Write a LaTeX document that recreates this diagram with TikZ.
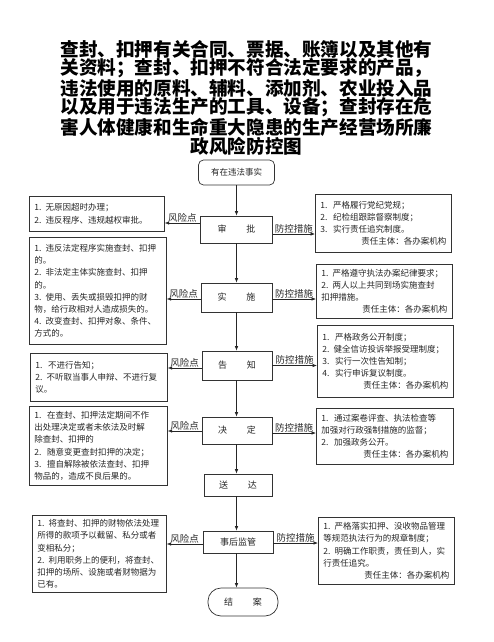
\documentclass[tikz,border=0pt]{standalone}
\usepackage{fontspec}
\setmainfont{Noto Sans CJK SC}
\usetikzlibrary{arrows.meta,calc}
\begin{document}
\begin{tikzpicture}[x=1pt,y=-1pt,
  every node/.style={text=black!85},
  flow/.style={draw=black!80, line width=0.7pt, inner sep=0pt,
    font=\fontsize{9}{11}\selectfont, anchor=center},
  sidebox/.style={draw=black!80, line width=0.7pt, inner xsep=5pt, inner ysep=2pt,
    anchor=north west, align=left, font=\fontsize{8.5}{12.2}\selectfont},
  arr/.style={draw=black!85, line width=0.6pt, -{Latex[length=4.5pt,width=3.5pt]}},
  lab/.style={above, inner sep=0.8pt, font=\fontsize{9.5}{10}\selectfont}
]
\useasboundingbox (0,0) rectangle (493,642);

% title
\node[inner sep=0pt, align=center, font=\fontsize{18.6}{18.6}\selectfont\bfseries, text=black] (title) at (246.5,97.5)
 {查封、扣押有关合同、票据、账簿以及其他有\\关资料；查封、扣押不符合法定要求的产品，\\违法使用的原料、辅料、添加剂、农业投入品\\以及用于违法生产的工具、设备；查封存在危\\害人体健康和生命重大隐患的生产经营场所廉\\政风险防控图};

% central flow
\node[flow, rounded corners=5pt, minimum width=76pt, minimum height=25pt, font=\fontsize{8.5}{10}\selectfont] (start) at (236.5,172.5) {有在违法事实};
\node[flow, minimum width=72pt, minimum height=27pt] (shen) at (236.5,229.5) {审\hspace{2.2em}批};
\node[flow, minimum width=71pt, minimum height=29pt] (shi) at (236.5,297.5) {实\hspace{2.2em}施};
\node[flow, minimum width=70pt, minimum height=29pt] (gao) at (237,365.5) {告\hspace{2.2em}知};
\node[flow, minimum width=70pt, minimum height=27pt] (jue) at (237,430.5) {决\hspace{2.2em}定};
\node[flow, minimum width=68pt, minimum height=22pt] (song) at (238,485) {送\hspace{2.2em}达};
\node[flow, minimum width=70pt, minimum height=22pt] (jian) at (238,542) {事后监管};
\node[flow, rounded corners=13pt, minimum width=70pt, minimum height=28pt] (end) at (243,602) {结\hspace{2.2em}案};

\draw[arr] (start.south) -- (start.south |- shen.north);
\draw[arr] (shen.south) -- (shen.south |- shi.north);
\draw[arr] (shi.south) -- (shi.south |- gao.north);
\draw[arr] (shi.south |- gao.south) -- (shi.south |- jue.north);
\draw[arr] (shi.south |- jue.south) -- (shi.south |- song.north);
\draw[arr] (shi.south |- song.south) -- (shi.south |- jian.north);
\draw[arr] (shi.south |- jian.south) -- (shi.south |- end.north);

% left risk boxes
\node[sidebox, minimum width=135pt, minimum height=35pt, text width=125pt] (L1) at (29,196)
 {1. 无原因超时办理；\\2. 违反程序、违规越权审批。};
\node[sidebox, minimum width=137pt, minimum height=107pt, text width=127pt] (L2) at (29,237)
 {1. 违反法定程序实施查封、扣押\\的。\\2. 非法定主体实施查封、扣押\\的。\\3. 使用、丢失或损毁扣押的财\\物，给行政相对人造成损失的。\\4. 改变查封、扣押对象、条件、\\方式的。};
\node[sidebox, minimum width=137pt, minimum height=48pt, text width=127pt] (L3) at (30,353)
 {1.\ \ 不进行告知；\\2. 不听取当事人申辩、不进行复\\议。};
\node[sidebox, minimum width=138pt, minimum height=79pt, text width=128pt] (L4) at (29,406)
 {1.\ \ 在查封、扣押法定期间不作\\出处理决定或者未依法及时解\\除查封、扣押的\\2.\ \ 随意变更查封扣押的决定；\\3.\ \ 擅自解除被依法查封、扣押\\物品的，造成不良后果的。};
\node[sidebox, minimum width=134pt, minimum height=77pt, text width=124pt] (L5) at (32,515)
 {1. 将查封、扣押的财物依法处理\\所得的款项予以截留、私分或者\\变相私分；\\2. 利用职务上的便利，将查封、\\扣押的场所、设施或者财物据为\\已有。};

% right control boxes
\node[sidebox, minimum width=136pt, minimum height=58pt, text width=126pt] (R1) at (315,194)
 {1.\ \ 严格履行党纪党规；\\2.\ \ 纪检组跟踪督察制度；\\3.\ \ 实行责任追究制度。\\\hspace*{\fill}责任主体：各办案机构};
\node[sidebox, minimum width=136pt, minimum height=54pt, text width=126pt] (R2) at (316,264)
 {1. 严格遵守执法办案纪律要求；\\2. 两人以上共同到场实施查封\\扣押措施。\\\hspace*{\fill}责任主体：各办案机构};
\node[sidebox, minimum width=136pt, minimum height=72pt, text width=126pt] (R3) at (317,325)
 {1.\ \ 严格政务公开制度；\\2. 健全信访投诉举报受理制度；\\3.\ \ 实行一次性告知制；\\4.\ \ 实行申诉复议制度。\\\hspace*{\fill}责任主体：各办案机构};
\node[sidebox, minimum width=137pt, minimum height=56pt, text width=127pt] (R4) at (316,408)
 {1.\ \ 通过案卷评查、执法检查等\\加强对行政强制措施的监督；\\2.\ \ 加强政务公开。\\\hspace*{\fill}责任主体：各办案机构};
\node[sidebox, minimum width=136pt, minimum height=67pt, text width=126pt] (R5) at (318,517)
 {1. 严格落实扣押、没收物品管理\\等规范执法行为的规章制度；\\2. 明确工作职责，责任到人，实\\行责任追究。\\\hspace*{\fill}责任主体：各办案机构};

% side connectors
\coordinate (a1) at ([yshift=6.5pt]shen.west);
\coordinate (b1) at ([yshift=-4.5pt]shen.east);
\coordinate (a2) at ([yshift=-1.5pt]shi.west);
\coordinate (b2) at ([yshift=-1.5pt]shi.east);
\coordinate (a3) at ([yshift=-2.5pt]gao.west);
\coordinate (b3) at (gao.east);
\coordinate (a4) at ([yshift=-0.5pt]jue.west);
\coordinate (b4) at ([yshift=-2.5pt]jue.east);
\coordinate (a5) at ([yshift=-2pt]jian.west);
\coordinate (b5) at ([yshift=-1pt]jian.east);

\draw[arr] (a1) -- (a1 -| L1.east) node[lab, midway] {风险点};
\draw[arr] (b1) -- (b1 -| R1.west) node[lab, midway] {防控措施};
\draw[arr] (a2) -- (a2 -| L2.east) node[lab, midway] {风险点};
\draw[arr] (b2) -- (b2 -| R2.west) node[lab, midway] {防控措施};
\draw[arr] (a3) -- (a3 -| L3.east) node[lab, midway] {风险点};
\draw[arr] (b3) -- (b3 -| R3.west) node[lab, midway] {防控措施};
\draw[arr] (a4) -- (a4 -| L4.east) node[lab, midway] {风险点};
\draw[arr] (b4) -- (b4 -| R4.west) node[lab, midway] {防控措施};
\draw[arr] (a5) -- (a5 -| L5.east) node[lab, midway] {风险点};
\draw[arr] (b5) -- (b5 -| R5.west) node[lab, midway] {防控措施};
\end{tikzpicture}
\end{document}
